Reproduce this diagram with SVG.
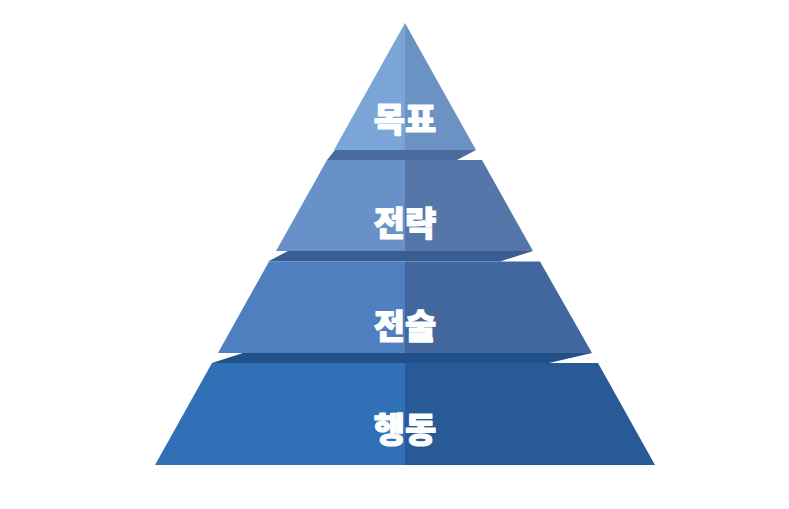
<svg xmlns="http://www.w3.org/2000/svg" width="789" height="509" viewBox="0 0 789 509">
<style>
.lbl{font-family:"Noto Sans CJK KR","Noto Sans",sans-serif;font-size:34px;font-weight:900;fill:#ffffff;stroke:#ffffff;stroke-width:1.2;stroke-linejoin:round;text-anchor:middle}
</style>
<rect width="789" height="509" fill="#ffffff"/>
<g id="layer-goal">
<polygon points="405,23 334,150 405,150" fill="#7BA4D7"/>
<polygon points="405,23 476,150 405,150" fill="#6A92C3"/>
<text class="lbl" x="405" y="132">목표</text>
</g>
<g id="layer-strategy">
<polygon points="335,150 476,150 457,160 327,160" fill="#4A6B9E"/>
<polygon points="327,160 405,160 405,251 276,251" fill="#6891CA"/>
<polygon points="405,160 482,160 533,251 405,251" fill="#5476A9"/>
<text class="lbl" x="405" y="235.5">전략</text>
</g>
<g id="layer-tactics">
<polygon points="288,251 533,251 500,261.5 268,261.5" fill="#3A5E93"/>
<polygon points="269,261.5 405,261.5 405,353 218,353" fill="#4F7FBF"/>
<polygon points="405,261.5 540,261.5 592,353 405,353" fill="#41679E"/>
<text class="lbl" x="405" y="339">전술</text>
</g>
<g id="layer-action">
<polygon points="243,353 592,353 549,363 212,363" fill="#22508A"/>
<polygon points="212,363 405,363 405,465 155,465" fill="#3070B6"/>
<polygon points="405,363 598,363 655,465 405,465" fill="#285A98"/>
<text class="lbl" x="405" y="441.5">행동</text>
</g>
</svg>
